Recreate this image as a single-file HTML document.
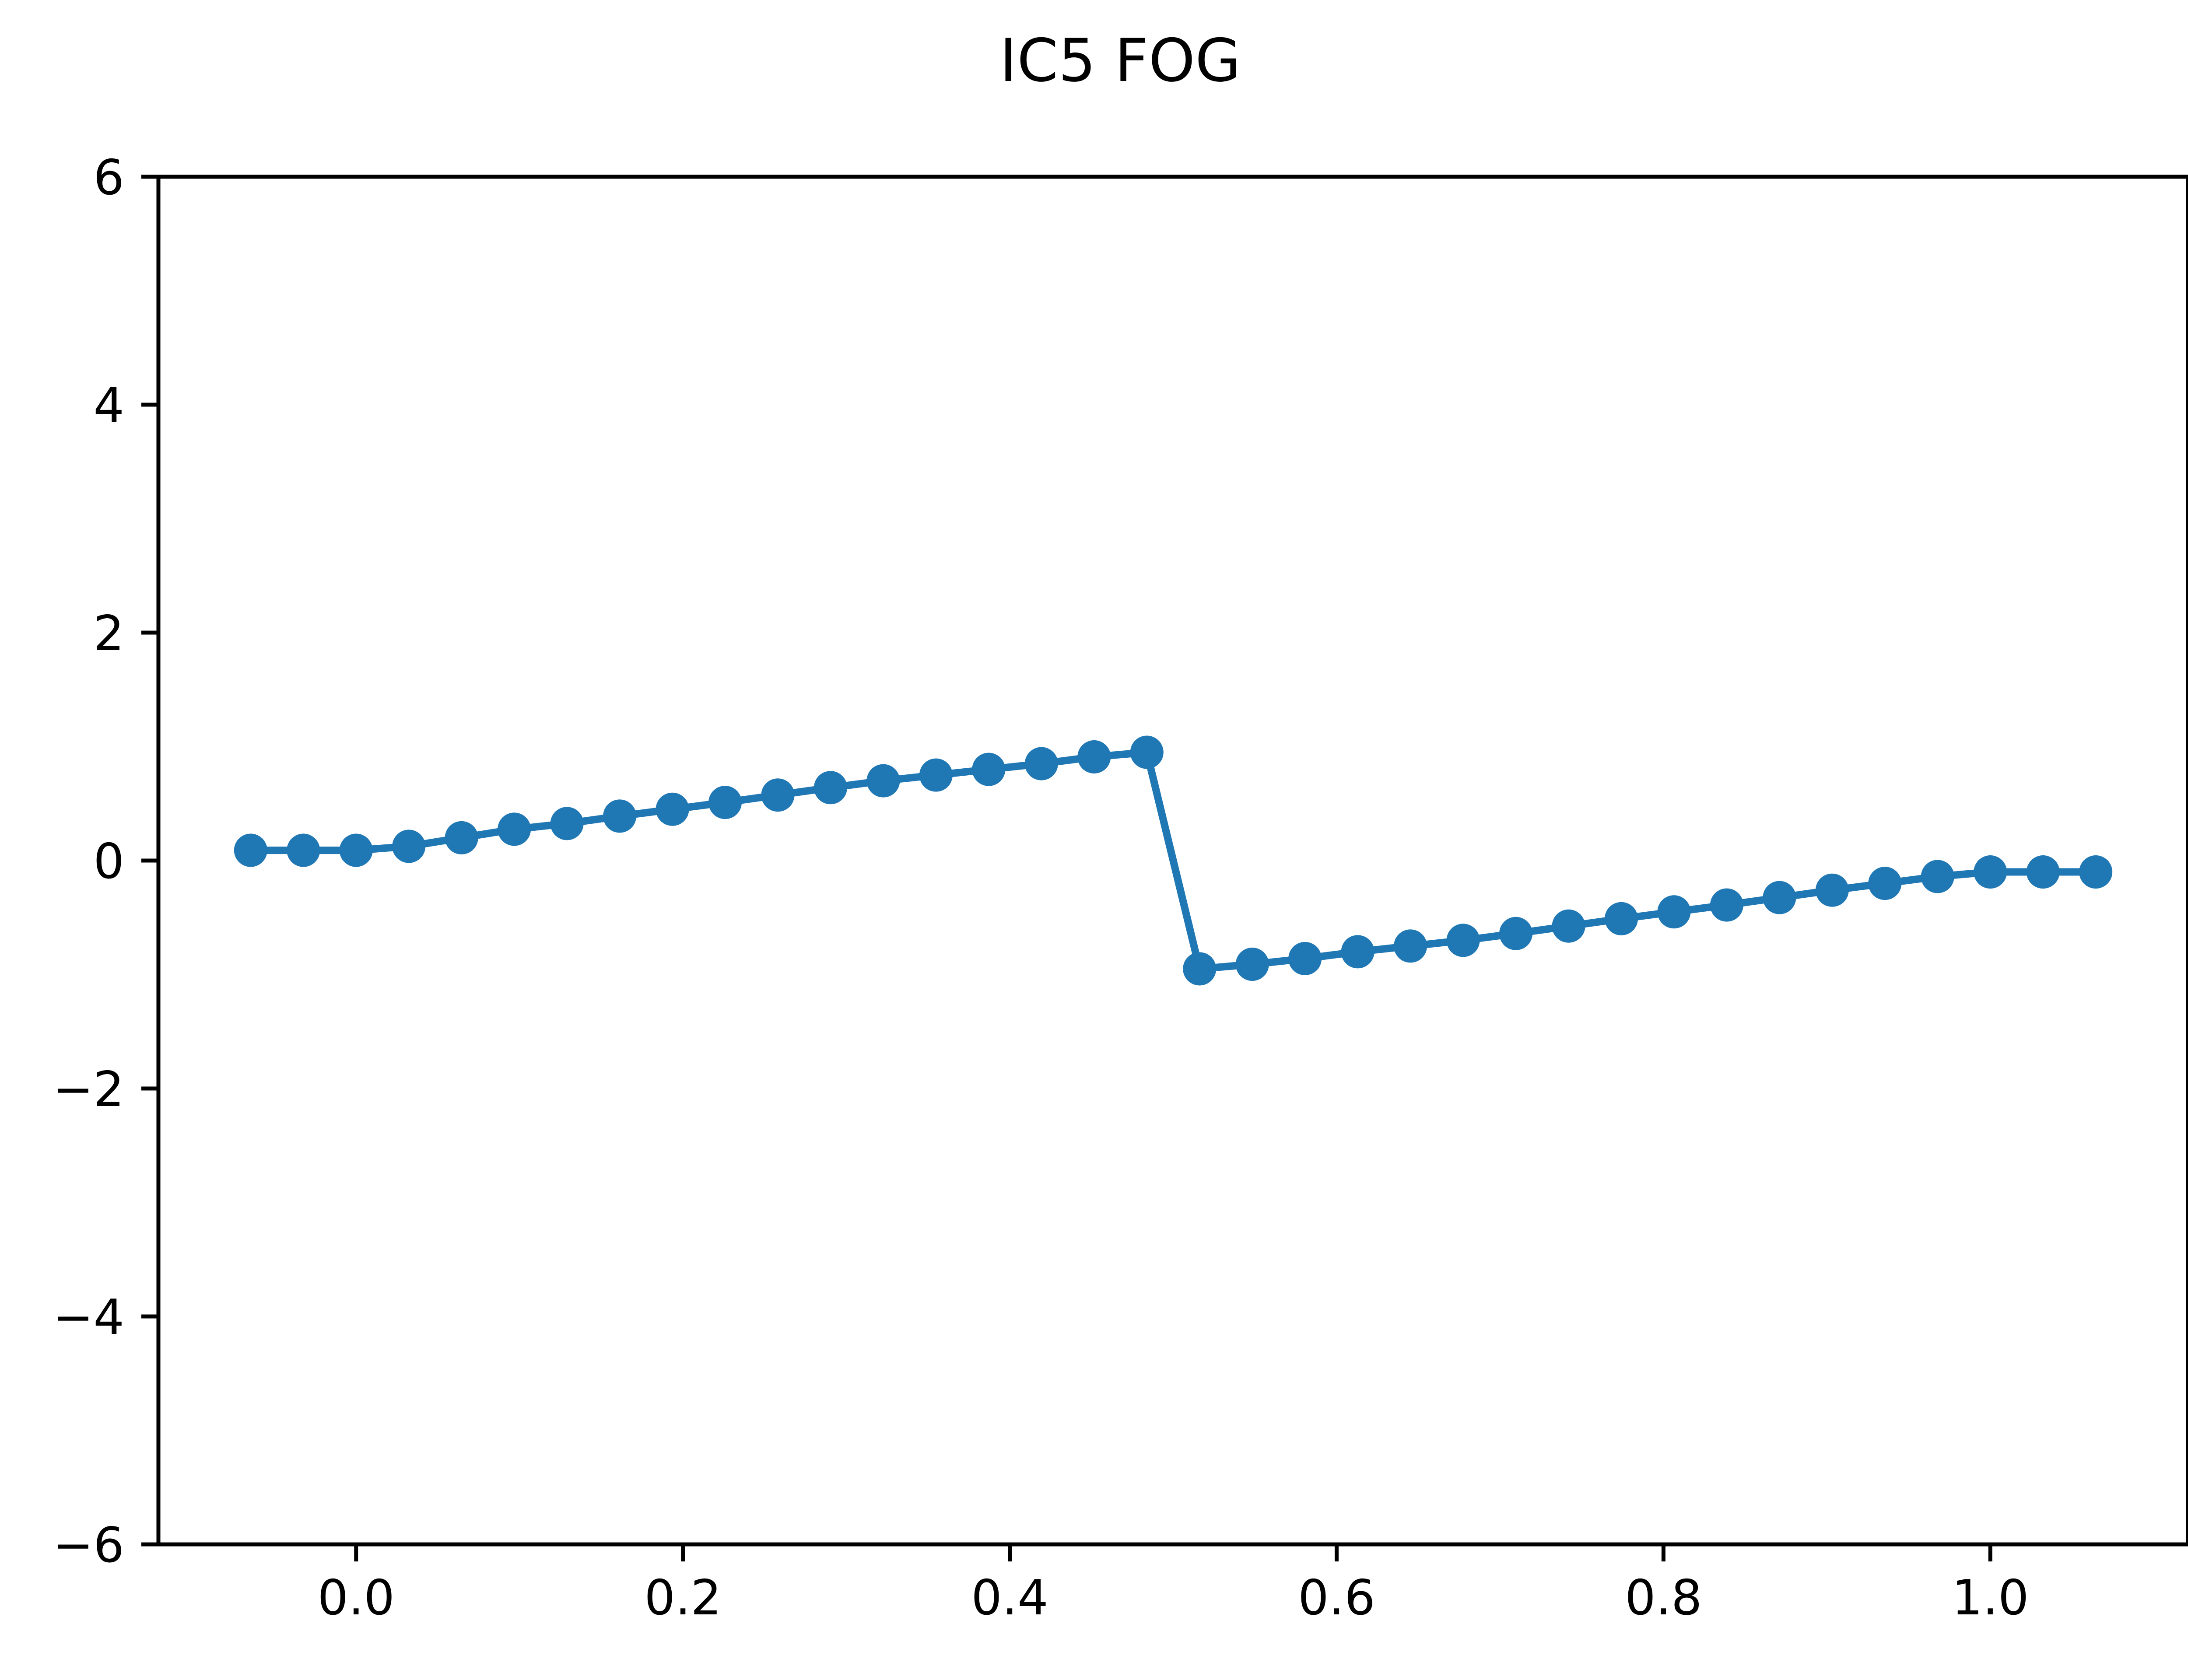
<!DOCTYPE html>
<html><head><meta charset="utf-8"><style>
html,body{margin:0;padding:0;background:#fff;}
svg{display:block;}
text{font-family:"DejaVu Sans","Liberation Sans",sans-serif;fill:#000;}
</style></head><body>
<svg id="chart" width="5120" height="3840" viewBox="0 0 5120 3840" xmlns="http://www.w3.org/2000/svg">
<rect x="0" y="0" width="5120" height="3840" fill="#fff"/>
<text x="2560" y="185" font-size="135" text-anchor="middle">IC5 FOG</text>
<g id="plot"></g>
<g id="axes"></g>
</svg>
<script>
const xValues = [-2,-1,0,1,2,3,4,5,6,7,8,9,10,11,12,13,14,15,16,17,18,19,20,21,22,23,24,25,26,27,28,29,30,31,32,33].map(v => v/31);
const yValues = [0.09,0.09,0.09,0.125,0.2,0.275,0.325,0.39,0.45,0.51,0.575,0.64,0.7,0.75,0.8,0.85,0.91,0.95,
                 -0.95,-0.91,-0.86,-0.8,-0.75,-0.7,-0.64,-0.575,-0.51,-0.45,-0.39,-0.325,-0.26,-0.2,-0.14,-0.1,-0.1,-0.1];
const xTicks = [0.0,0.2,0.4,0.6,0.8,1.0];
const xTickLabels = ["0.0","0.2","0.4","0.6","0.8","1.0"];
const yTicks = [-6,-4,-2,0,2,4,6];
const yTickLabels = ["\u22126","\u22124","\u22122","0","2","4","6"];

const L=362,R=5000,T=404,B=3530;
const xmin=Math.min(...xValues), xmax=Math.max(...xValues);
const xm=(xmax-xmin)*0.05;
const X0=xmin-xm, X1=xmax+xm;
const Y0=-6, Y1=6;
function sx(v){return L+(v-X0)/(X1-X0)*(R-L);}
function sy(v){return B-(v-Y0)/(Y1-Y0)*(B-T);}
const NS="http://www.w3.org/2000/svg";
const plot=document.getElementById('plot');
const axes=document.getElementById('axes');
function mk(tag,attrs,parent){const e=document.createElementNS(NS,tag);for(const k in attrs)e.setAttribute(k,attrs[k]);parent.appendChild(e);return e;}

const pts=xValues.map((x,i)=>sx(x).toFixed(1)+','+sy(yValues[i]).toFixed(1)).join(' ');
const line=mk('polyline',{points:pts,fill:'none',stroke:'#1f77b4','stroke-width':17,'stroke-linejoin':'round','stroke-linecap':'square'},plot);


xValues.forEach((x,i)=>{
  const c=mk('circle',{cx:sx(x),cy:sy(yValues[i]),r:38,fill:'#1f77b4'},plot);
  
  
});

const frame=mk('rect',{x:L,y:T,width:R-L,height:B-T,fill:'none',stroke:'#000','stroke-width':9},axes);



xTicks.forEach((v,i)=>{
  const x=sx(v);
  const t=mk('line',{x1:x,y1:B,x2:x,y2:B+39,stroke:'#000','stroke-width':9},axes);
  
  
  const lb=mk('text',{x:x,y:B+39+39+82,'font-size':111,'text-anchor':'middle'},axes);
  lb.textContent=xTickLabels[i];
  
  
});
yTicks.forEach((v,i)=>{
  const y=sy(v);
  const t=mk('line',{x1:L-39,y1:y,x2:L,y2:y,stroke:'#000','stroke-width':9},axes);
  
  
  const lb=mk('text',{x:L-39-39,y:y+40,'font-size':111,'text-anchor':'end'},axes);
  lb.textContent=yTickLabels[i];
  
  
});
</script>
</body></html>
